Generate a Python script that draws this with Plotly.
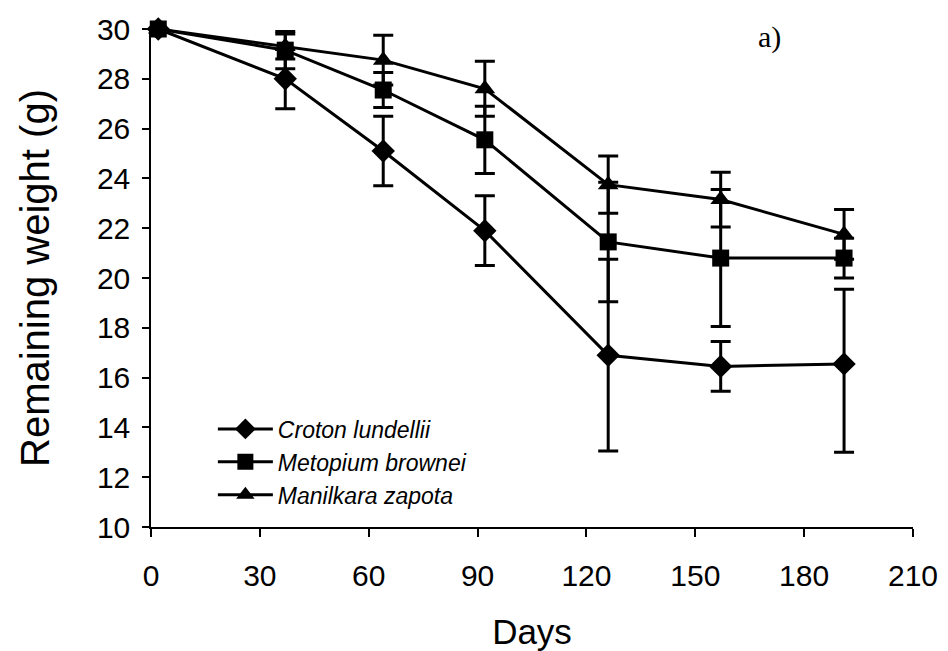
import plotly.graph_objects as go

days = [2, 37, 64, 92, 126, 157, 191]

croton = [30, 28.0, 25.1, 21.9, 16.9, 16.45, 16.55]
croton_err_plus = [None, 1.2, 1.4, 1.4, 3.85, 1.0, 3.0]
croton_err_minus = [None, 1.2, 1.4, 1.4, 3.85, 1.0, 3.55]

metopium = [30, 29.15, 27.55, 25.55, 21.45, 20.8, 20.8]
metopium_err = [None, 0.75, 0.7, 1.35, 2.4, 2.75, 0.8]

manilkara = [30, 29.3, 28.75, 27.6, 23.75, 23.15, 21.75]
manilkara_err = [None, 0.5, 1.0, 1.1, 1.15, 1.1, 1.0]

names = ["Croton lundellii", "Metopium brownei", "Manilkara zapota"]

x_ticks = [0, 30, 60, 90, 120, 150, 180, 210]
y_ticks = [10, 12, 14, 16, 18, 20, 22, 24, 26, 28, 30]

fig = go.Figure()

def add(y, ep, em, name, symbol, size):
    fig.add_trace(go.Scatter(
        x=days, y=y, name=name, mode="lines+markers",
        line=dict(color="black", width=3),
        marker=dict(symbol=symbol, size=size, color="black"),
        error_y=dict(type="data", array=ep, arrayminus=em, symmetric=False,
                     color="black", thickness=3, width=10),
        cliponaxis=False,
    ))

add(croton, croton_err_plus, croton_err_minus, names[0], "diamond", 18)
add(metopium, metopium_err, metopium_err, names[1], "square", 17)
add(manilkara, manilkara_err, manilkara_err, names[2], "triangle-up", 18)

# page body has an 8px margin, so the figure is 8px smaller and margins shifted
fig.update_layout(
    width=940, height=643,
    margin=dict(l=143, r=35, t=21, b=124, autoexpand=False),
    paper_bgcolor="white", plot_bgcolor="white",
    font=dict(family="Liberation Sans, Arial, sans-serif", color="black"),
    showlegend=True,
    legend=dict(
        x=0.0812, y=0.24, xanchor="left", yanchor="top",
        bgcolor="rgba(0,0,0,0)",
        font=dict(size=23, family="Liberation Sans, Arial, sans-serif", style="italic", color="black"),
        tracegroupgap=0, itemwidth=55,
    ),
    xaxis=dict(
        range=[0, 210], tickvals=x_ticks, ticktext=[str(v) for v in x_ticks],
        showline=True, linecolor="black", linewidth=1.5,
        ticks="outside", ticklen=8, tickwidth=1.5, tickcolor="black",
        showgrid=False, zeroline=False, automargin=False,
        tickfont=dict(size=30), ticklabelstandoff=13,
        title=dict(text="Days", font=dict(size=35), standoff=29),
    ),
    yaxis=dict(
        range=[10, 30], tickvals=y_ticks, ticktext=[str(v) for v in y_ticks],
        showline=True, linecolor="black", linewidth=1.5,
        ticks="outside", ticklen=7, tickwidth=1.5, tickcolor="black",
        showgrid=False, zeroline=False, automargin=False,
        tickfont=dict(size=30), ticklabelstandoff=6,
        title=dict(text="Remaining weight (g)", font=dict(size=40), standoff=35),
    ),
    annotations=[dict(
        text="a)", x=170.4, y=29.66, xref="x", yref="y", showarrow=False,
        xanchor="center", yanchor="middle",
        font=dict(family="Liberation Serif, Times New Roman, serif", size=30, color="black"),
    )],
)

fig.write_html("out.html")
